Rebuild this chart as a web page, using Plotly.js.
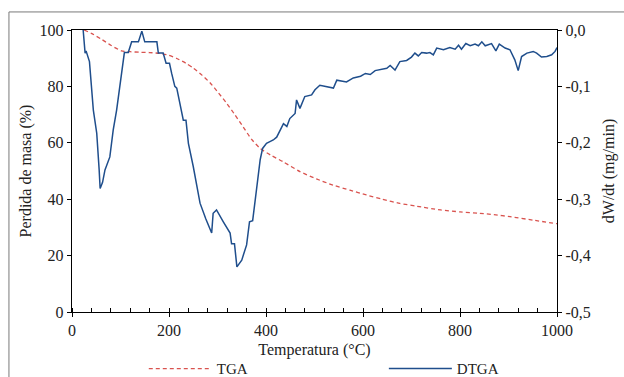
<!DOCTYPE html>
<html>
<head>
<meta charset="utf-8">
<script src="https://cdn.plot.ly/plotly-3.0.1.min.js"></script>
<style>
  html, body { margin: 0; padding: 0; background: #ffffff; }
  #chart { width: 624px; height: 377px; }
</style>
</head>
<body>
<div id="chart"></div>
<script>
// TGA: mass loss (%) vs temperature (°C)
var tgaTemp = [25, 40, 60, 80, 102, 120, 140, 160, 181, 200, 216, 235, 250, 268, 285, 302, 319, 336, 353, 370, 388, 410, 435, 470, 504, 538, 573, 607, 640, 676, 711, 760, 800, 841, 870, 903, 950, 1000];
var tgaMass = [100, 98.8, 96.8, 94.6, 92.6, 92.3, 92.1, 92.0, 91.7, 91.0, 89.9, 88.2, 86.5, 84.0, 81.2, 77.7, 74.0, 69.9, 65.6, 61.3, 58.0, 55.6, 53.3, 49.8, 47.2, 45.0, 43.2, 41.5, 40.0, 38.5, 37.5, 36.2, 35.5, 35.0, 34.5, 33.8, 32.6, 31.3];

// DTGA: dW/dt (mg/min) vs temperature (°C)
var dtgaTemp = [23, 25, 27, 29, 36, 44, 51, 56, 58, 63, 68, 78, 85, 92, 99, 104, 108, 116, 123, 137, 144, 150, 175, 178, 188, 194, 201, 205.5, 212, 216, 221, 229.5, 235, 240, 250, 264, 276, 288, 291, 298, 312, 326, 329, 335, 340, 350, 360, 366, 372.5, 381, 388, 393, 401, 408, 415, 422, 429, 436, 443, 449, 460, 463, 470, 480, 494, 501, 511, 525, 539, 546, 566, 580, 595, 605, 615, 625, 635, 649, 656, 666, 676, 690, 700, 707, 714, 721, 731, 738, 745, 752, 766, 779, 790, 797, 803, 812, 821, 831, 838, 845, 852, 865, 874, 881, 893, 903, 913, 920, 927, 938, 951, 958, 968, 979, 989, 996, 1000];
var dtgaRate = [0.000, -0.020, -0.041, -0.037, -0.056, -0.142, -0.183, -0.248, -0.281, -0.270, -0.248, -0.225, -0.177, -0.142, -0.098, -0.071, -0.040, -0.040, -0.021, -0.021, -0.002, -0.021, -0.021, -0.041, -0.041, -0.059, -0.059, -0.077, -0.100, -0.103, -0.124, -0.160, -0.160, -0.201, -0.242, -0.307, -0.335, -0.360, -0.325, -0.319, -0.340, -0.360, -0.379, -0.379, -0.420, -0.408, -0.381, -0.340, -0.338, -0.278, -0.230, -0.210, -0.201, -0.198, -0.195, -0.190, -0.177, -0.166, -0.171, -0.157, -0.148, -0.124, -0.139, -0.118, -0.115, -0.106, -0.098, -0.100, -0.103, -0.089, -0.092, -0.085, -0.082, -0.077, -0.079, -0.072, -0.070, -0.068, -0.063, -0.071, -0.056, -0.054, -0.048, -0.041, -0.046, -0.040, -0.041, -0.040, -0.044, -0.032, -0.035, -0.031, -0.034, -0.027, -0.034, -0.024, -0.028, -0.025, -0.028, -0.021, -0.028, -0.024, -0.037, -0.025, -0.032, -0.035, -0.053, -0.072, -0.047, -0.041, -0.038, -0.041, -0.048, -0.047, -0.044, -0.038, -0.031];

var xTickVals = [0, 200, 400, 600, 800, 1000];
var yTickVals = [0, 20, 40, 60, 80, 100];
var y2TickVals = [-0.5, -0.4, -0.3, -0.2, -0.1, 0.0];
var y2TickText = ["-0,5", "-0,4", "-0,3", "-0,2", "-0,1", "0,0"];

var FONT = '"Liberation Serif", "Times New Roman", Times, serif';

var traces = [
  {
    x: tgaTemp, y: tgaMass, name: "TGA", type: "scatter", mode: "lines",
    line: { color: "#d9534f", width: 1.3, dash: "4px,3px", shape: "spline", smoothing: 0.6 },
    yaxis: "y", legend: "legend"
  },
  {
    x: dtgaTemp, y: dtgaRate, name: "DTGA", type: "scatter", mode: "lines",
    line: { color: "#1f4e8c", width: 1.5 },
    yaxis: "y2", legend: "legend2"
  }
];

var legendFont = { family: FONT, size: 15, color: "#222222" };

var layout = {
  width: 624, height: 377,
  margin: { l: 72, r: 67, t: 30, b: 65, autoexpand: false },
  paper_bgcolor: "#ffffff", plot_bgcolor: "#ffffff",
  font: { family: FONT, size: 16, color: "#222222" },
  showlegend: true,
  legend: {
    orientation: "h", x: 0.148, y: -0.143, xanchor: "left", yanchor: "top",
    font: legendFont, itemwidth: 63, bgcolor: "rgba(0,0,0,0)"
  },
  legend2: {
    orientation: "h", x: 0.643, y: -0.143, xanchor: "left", yanchor: "top",
    font: legendFont, itemwidth: 63, bgcolor: "rgba(0,0,0,0)"
  },
  xaxis: {
    range: [0, 1000], tickvals: xTickVals, ticks: "outside", ticklen: 4, tickcolor: "#000",
    showline: true, linecolor: "#000", linewidth: 1.2, mirror: true, showgrid: false, zeroline: false,
    minor: { dtick: 40, ticks: "inside", ticklen: 4, tickcolor: "#000", showgrid: false },
    title: { text: "Temperatura (°C)", font: { family: FONT, size: 16 }, standoff: 5 },
    tickfont: { family: FONT, size: 16 }
  },
  yaxis: {
    range: [0, 100], tickvals: yTickVals, ticks: "outside", ticklen: 4, tickcolor: "#000",
    showline: true, linecolor: "#000", linewidth: 1.2, showgrid: false, zeroline: false,
    title: { text: "Perdida de masa (%)", font: { family: FONT, size: 16 }, standoff: 4 },
    tickfont: { family: FONT, size: 16 }
  },
  yaxis2: {
    range: [-0.5, 0], overlaying: "y", side: "right",
    tickvals: y2TickVals, ticktext: y2TickText, ticks: "outside", ticklen: 4, tickcolor: "#000",
    showline: true, linecolor: "#000", linewidth: 1.2, showgrid: false, zeroline: false,
    title: { text: "dW/dt (mg/min)", font: { family: FONT, size: 16 }, standoff: 13 },
    tickfont: { family: FONT, size: 16 }
  },
  shapes: [
    { type: "line", xref: "paper", yref: "paper", x0: -0.130, x1: -0.130, y0: -0.30, y1: 1.064, line: { color: "#7a7a7a", width: 1 } },
    { type: "line", xref: "paper", yref: "paper", x0: -0.130, x1: 1.20, y0: 1.064, y1: 1.064, line: { color: "#7a7a7a", width: 1 } }
  ]
};

Plotly.newPlot("chart", traces, layout, { staticPlot: true, displayModeBar: false });
</script>
</body>
</html>
